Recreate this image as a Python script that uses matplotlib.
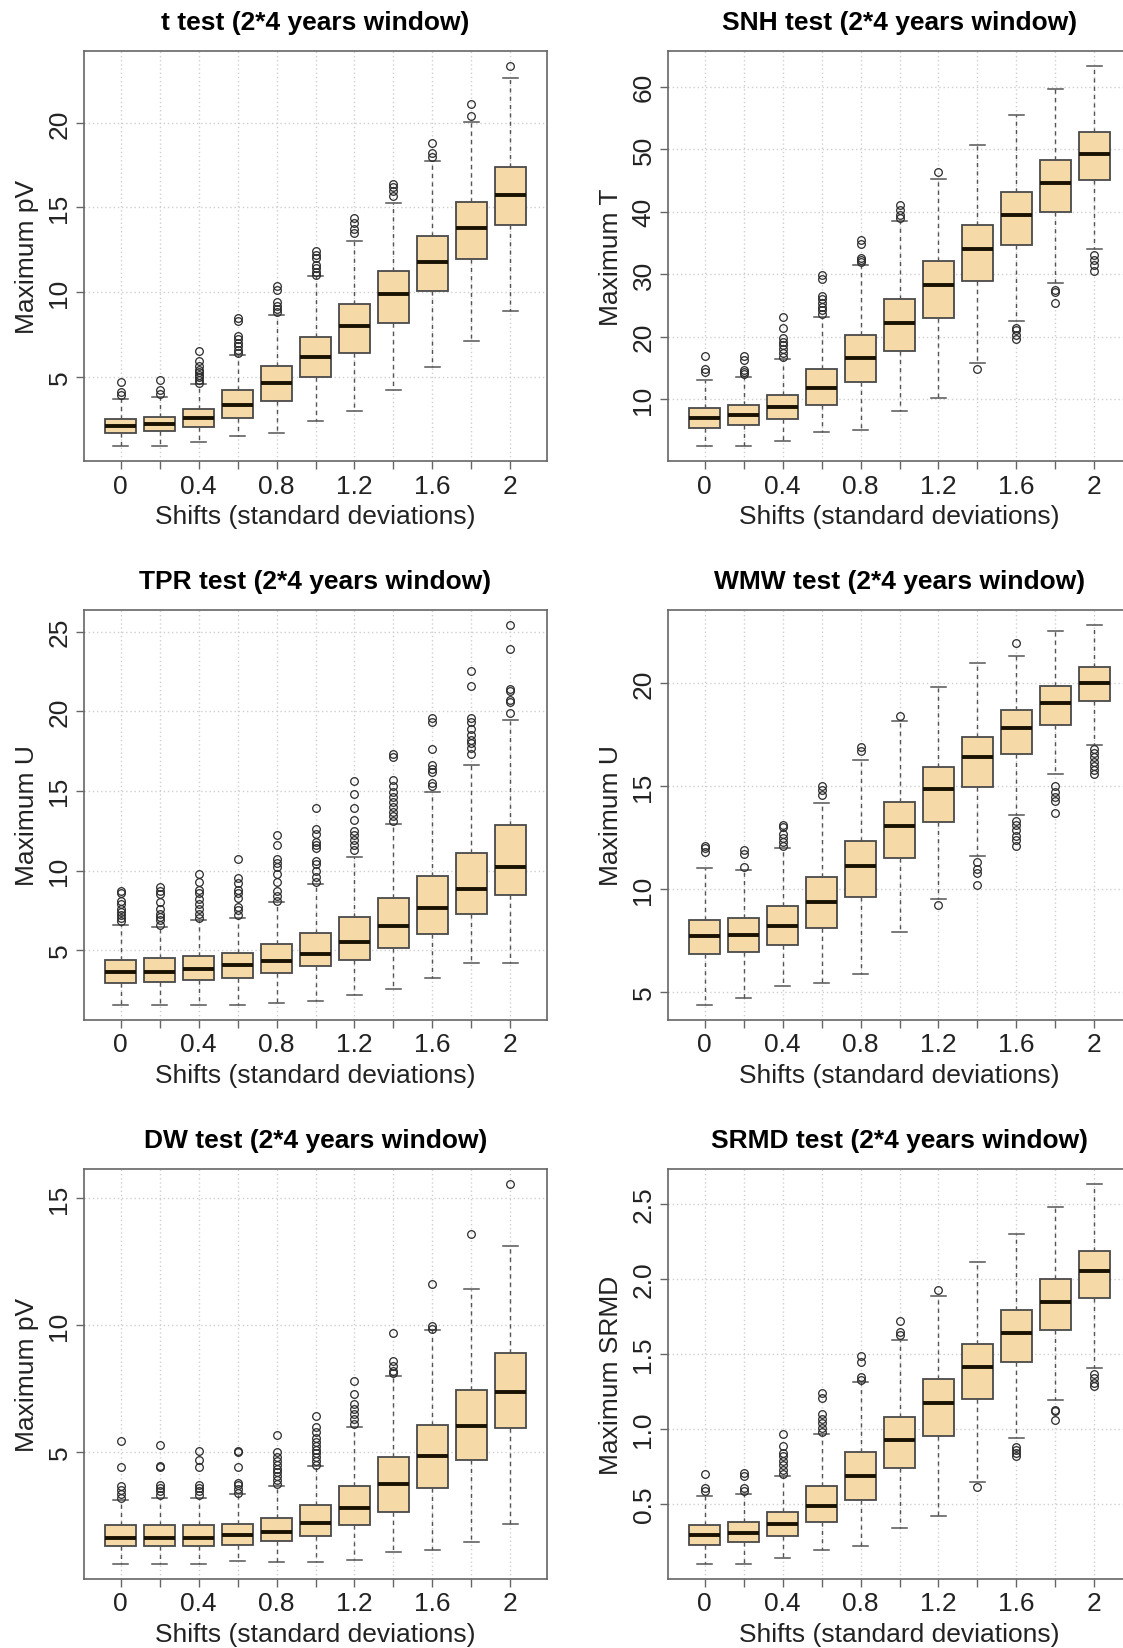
import matplotlib
matplotlib.use("Agg")
from matplotlib import pyplot as plt

plt.rcParams['font.family'] = ['Liberation Sans', 'DejaVu Sans']

shifts = ["0", "", "0.4", "", "0.8", "", "1.2", "", "1.6", "", "2"]

# t test
t_lo = [0.91, 0.91, 1.12, 1.50, 1.67, 2.40, 2.97, 4.19, 5.57, 7.11, 8.88]
t_q1 = [1.67, 1.79, 2.01, 2.58, 3.58, 4.96, 6.38, 8.17, 10.04, 11.95, 13.94]
t_med = [2.11, 2.17, 2.56, 3.31, 4.63, 6.18, 7.97, 9.88, 11.75, 13.76, 15.73]
t_q3 = [2.52, 2.62, 3.09, 4.19, 5.61, 7.36, 9.27, 11.22, 13.29, 15.33, 17.42]
t_hi = [3.70, 3.80, 4.55, 6.28, 8.66, 10.93, 12.99, 15.26, 17.76, 20.04, 22.68]
t_out = [[3.9, 4.1, 4.7], [4.0, 4.2, 4.8], [4.65, 4.8, 4.95, 5.1, 5.25, 5.4, 5.6, 5.9, 6.5],
         [6.4, 6.6, 6.8, 7.0, 7.2, 7.4, 8.3, 8.45], [8.8, 9.0, 9.2, 9.4, 10.1, 10.35],
         [11.0, 11.2, 11.4, 11.6, 12.0, 12.2, 12.4], [13.5, 13.7, 14.1, 14.4],
         [15.7, 16.0, 16.2, 16.4], [18.0, 18.2, 18.8], [20.4, 21.1], [23.35]]

# SNH test
s_lo = [2.5, 2.5, 3.3, 4.7, 5.1, 8.1, 10.1, 15.7, 22.5, 28.5, 34.0]
s_q1 = [5.4, 5.8, 6.8, 9.0, 12.7, 17.7, 23.0, 28.9, 34.7, 39.9, 45.0]
s_med = [7.0, 7.4, 8.7, 11.7, 16.6, 22.1, 28.2, 34.1, 39.5, 44.6, 49.3]
s_q3 = [8.6, 9.0, 10.7, 14.8, 20.3, 26.0, 32.1, 37.8, 43.2, 48.3, 52.8]
s_hi = [13.1, 13.5, 16.4, 23.2, 31.5, 38.5, 45.3, 50.7, 55.5, 59.7, 63.3]
s_out = [[14.4, 14.8, 16.9], [14.0, 14.3, 14.6, 16.3, 16.9],
         [16.8, 17.4, 18.0, 18.6, 19.2, 19.8, 21.4, 23.2],
         [23.6, 24.2, 24.8, 25.4, 26.0, 26.5, 29.2, 29.8], [32.0, 32.3, 32.6, 34.8, 35.5],
         [39.0, 39.4, 40.2, 41.0], [46.4], [14.8], [19.6, 20.3, 21.0, 21.4],
         [25.4, 27.1, 27.5], [30.5, 31.4, 32.2, 33.0]]

# TPR test
p_lo = [1.57, 1.57, 1.57, 1.57, 1.66, 1.84, 2.16, 2.54, 3.28, 4.17, 4.17]
p_q1 = [2.94, 2.98, 3.12, 3.28, 3.54, 3.99, 4.40, 5.11, 6.03, 7.26, 8.49]
p_med = [3.66, 3.66, 3.79, 4.06, 4.35, 4.78, 5.49, 6.52, 7.64, 8.87, 10.22]
p_q3 = [4.40, 4.51, 4.66, 4.84, 5.36, 6.07, 7.08, 8.27, 9.66, 11.07, 12.84]
p_hi = [6.57, 6.46, 6.90, 7.04, 8.02, 9.16, 10.82, 12.95, 14.96, 16.60, 19.47]
p_out = [[6.8, 7.0, 7.2, 7.4, 7.6, 7.9, 8.1, 8.6, 8.7],
         [6.6, 6.9, 7.1, 7.3, 7.6, 8.0, 8.5, 8.7, 8.95],
         [7.0, 7.3, 7.6, 7.9, 8.2, 8.6, 8.8, 9.3, 9.8],
         [7.2, 7.5, 7.7, 8.3, 8.6, 8.8, 9.2, 9.5, 10.7],
         [8.1, 8.4, 8.7, 9.3, 9.8, 10.2, 10.5, 10.7, 11.6, 12.2],
         [9.3, 9.6, 10.0, 10.4, 10.6, 11.4, 11.6, 11.8, 12.3, 12.6, 13.9],
         [11.3, 11.6, 11.9, 12.2, 12.5, 13.2, 13.9, 14.8, 15.6],
         [13.1, 13.4, 13.7, 14.0, 14.3, 14.6, 14.9, 15.3, 15.7, 17.1, 17.3],
         [15.3, 15.5, 16.2, 16.4, 16.6, 17.6, 19.3, 19.6],
         [17.3, 17.7, 18.0, 18.2, 18.5, 18.9, 19.3, 19.6, 21.6, 22.5],
         [19.9, 20.6, 20.7, 21.3, 21.4, 23.9, 25.4]]

# WMW test
w_lo = [4.38, 4.69, 5.30, 5.42, 5.90, 7.93, 9.51, 11.63, 13.59, 15.59, 17.03]
w_q1 = [6.86, 6.96, 7.29, 8.09, 9.60, 11.51, 13.28, 14.95, 16.58, 17.97, 19.15]
w_med = [7.73, 7.78, 8.21, 9.38, 11.15, 13.09, 14.86, 16.41, 17.85, 19.06, 20.02]
w_q3 = [8.51, 8.61, 9.20, 10.59, 12.33, 14.24, 15.92, 17.40, 18.72, 19.86, 20.80]
w_hi = [11.04, 10.95, 12.01, 14.18, 16.27, 18.18, 19.81, 20.97, 21.35, 22.53, 22.83]
w_out = [[11.8, 12.0, 12.1], [11.1, 11.7, 11.9], [12.1, 12.3, 12.5, 12.7, 13.0, 13.1],
         [14.6, 14.8, 15.0], [16.7, 16.9], [18.4], [9.25], [10.2, 10.8, 11.0, 11.3],
         [12.1, 12.4, 12.6, 12.9, 13.1, 13.3, 21.96], [13.7, 14.3, 14.5, 14.7, 15.0],
         [15.6, 15.8, 16.0, 16.2, 16.4, 16.6, 16.8]]

# DW test
d_lo = [0.60, 0.60, 0.60, 0.72, 0.67, 0.67, 0.76, 1.07, 1.15, 1.45, 2.17]
d_q1 = [1.29, 1.29, 1.29, 1.35, 1.48, 1.68, 2.11, 2.65, 3.57, 4.68, 5.95]
d_med = [1.63, 1.63, 1.63, 1.73, 1.86, 2.21, 2.80, 3.75, 4.86, 6.03, 7.37]
d_q3 = [2.11, 2.11, 2.11, 2.18, 2.41, 2.90, 3.68, 4.79, 6.06, 7.43, 8.92]
d_hi = [3.10, 3.20, 3.20, 3.34, 3.68, 4.45, 5.99, 8.01, 9.80, 11.42, 13.12]
d_out = [[3.2, 3.35, 3.5, 3.65, 4.4, 5.44], [3.3, 3.45, 3.6, 3.7, 4.4, 4.45, 5.28],
         [3.3, 3.45, 3.6, 3.7, 4.4, 4.7, 5.05], [3.4, 3.55, 3.7, 3.8, 4.4, 5.0, 5.05],
         [3.75, 3.9, 4.05, 4.2, 4.35, 4.5, 4.65, 4.8, 5.0, 5.69],
         [4.5, 4.65, 4.8, 4.95, 5.1, 5.25, 5.4, 5.55, 5.8, 6.0, 6.44],
         [6.1, 6.3, 6.5, 6.7, 6.9, 7.3, 7.78], [8.1, 8.2, 8.4, 8.6, 9.68],
         [9.85, 9.95, 11.63], [13.58], [15.55]]

# SRMD test
r_lo = [0.102, 0.102, 0.139, 0.195, 0.223, 0.344, 0.421, 0.649, 0.940, 1.196, 1.410]
r_q1 = [0.230, 0.246, 0.286, 0.379, 0.526, 0.742, 0.954, 1.201, 1.445, 1.659, 1.871]
r_med = [0.293, 0.309, 0.367, 0.488, 0.689, 0.926, 1.171, 1.415, 1.643, 1.850, 2.051]
r_q3 = [0.358, 0.381, 0.449, 0.619, 0.845, 1.084, 1.334, 1.566, 1.795, 2.004, 2.190]
r_hi = [0.554, 0.565, 0.689, 0.968, 1.313, 1.597, 1.888, 2.113, 2.304, 2.481, 2.633]
r_out = [[0.59, 0.61, 0.70], [0.59, 0.61, 0.69, 0.71],
         [0.70, 0.73, 0.76, 0.79, 0.82, 0.84, 0.89, 0.97],
         [0.98, 1.01, 1.04, 1.07, 1.10, 1.21, 1.24], [1.33, 1.35, 1.45, 1.49],
         [1.63, 1.65, 1.72], [1.927], [0.614], [0.82, 0.84, 0.86, 0.88],
         [1.06, 1.12, 1.13], [1.29, 1.31, 1.34, 1.37]]

panels = [
    ("t test (2*4 years window)", "Maximum pV", [5, 10, 15, 20], t_lo, t_q1, t_med, t_q3, t_hi, t_out),
    ("SNH test (2*4 years window)", "Maximum T", [10, 20, 30, 40, 50, 60], s_lo, s_q1, s_med, s_q3, s_hi, s_out),
    ("TPR test (2*4 years window)", "Maximum U", [5, 10, 15, 20, 25], p_lo, p_q1, p_med, p_q3, p_hi, p_out),
    ("WMW test (2*4 years window)", "Maximum U", [5, 10, 15, 20], w_lo, w_q1, w_med, w_q3, w_hi, w_out),
    ("DW test (2*4 years window)", "Maximum pV", [5, 10, 15], d_lo, d_q1, d_med, d_q3, d_hi, d_out),
    ("SRMD test (2*4 years window)", "Maximum SRMD", [0.5, 1.0, 1.5, 2.0, 2.5], r_lo, r_q1, r_med, r_q3, r_hi, r_out),
]

W, H = 1123, 1649
fig = plt.figure(figsize=(W / 100, H / 100), dpi=100)

lefts = [84, 668]
tops = [52, 611, 1170]
aw, ah = 463, 410

for i, (title, ylab, yt, lo, q1, med, q3, hi, out) in enumerate(panels):
    l = lefts[i % 2]
    t = tops[i // 2]
    ax = fig.add_axes([l / W, 1 - (t + ah) / H, aw / W, ah / H])

    stats = []
    for k in range(len(med)):
        stats.append({"whislo": lo[k], "q1": q1[k], "med": med[k], "q3": q3[k],
                      "whishi": hi[k], "fliers": out[k]})
    pos = list(range(1, len(med) + 1))
    ax.bxp(stats, positions=pos, widths=0.8, patch_artist=True,
           boxprops=dict(facecolor="#f5d9a6", edgecolor="#4a4a4a", linewidth=1.3),
           medianprops=dict(color="#1a1200", linewidth=2.8, solid_capstyle="butt"),
           whiskerprops=dict(color="#555555", linewidth=1.0, linestyle=(0, (3, 3))),
           capprops=dict(color="#555555", linewidth=1.1),
           flierprops=dict(marker="o", markerfacecolor="none", markeredgecolor="#2a2a2a",
                           markersize=5.5, markeredgewidth=0.9),
           zorder=3)

    allv = lo + hi + [v for o in out for v in o]
    vmin, vmax = min(allv), max(allv)
    pad = 0.04 * (vmax - vmin)
    ax.set_ylim(vmin - pad, vmax + pad)
    n = len(med)
    ax.set_xlim(0.5 - 0.04 * n, n + 0.5 + 0.04 * n)

    ax.set_xticks(pos)
    ax.set_xticklabels(shifts)
    ax.set_yticks(yt)
    ax.set_yticklabels([str(v) if isinstance(v, int) else "%.1f" % v for v in yt],
                       rotation=90, va="center")

    # grid like R grid()
    for x in pos:
        ax.axvline(x, color="#cfcfcf", linestyle=(0, (1, 2)), linewidth=1, zorder=1)
    for y in yt:
        ax.axhline(y, color="#cfcfcf", linestyle=(0, (1, 2)), linewidth=1, zorder=1)

    for s in ax.spines.values():
        s.set_color("#666666")
        s.set_linewidth(1.2)
    ax.tick_params(length=6, width=1, color="#666666", labelsize=19, labelcolor="#222222", pad=3)

    ax.set_title(title, fontsize=19, fontweight="bold", pad=16)
    ax.set_xlabel("Shifts (standard deviations)", fontsize=19, color="#222222", labelpad=5)
    ax.set_ylabel(ylab, fontsize=19, color="#222222", labelpad=6)

plt.savefig("out.png", dpi=100)
